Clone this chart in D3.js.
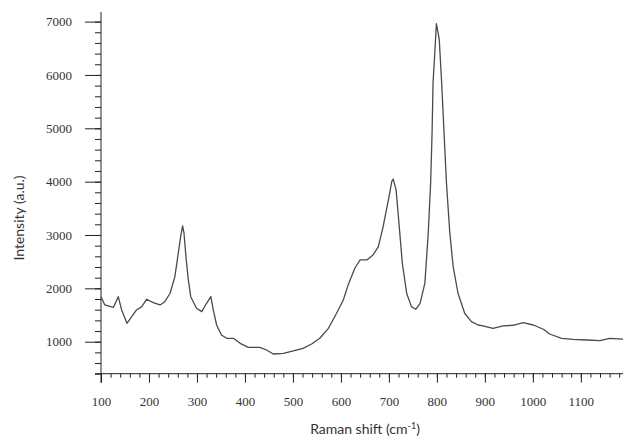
<!DOCTYPE html>
<html>
<head>
<meta charset="utf-8">
<script src="https://cdn.jsdelivr.net/npm/d3@7"></script>
<style>
  body { margin: 0; background: #fff; }
  .tick text { font-family: "Liberation Serif", serif; font-size: 13px; fill: #333; }
  .axis path, .axis line { stroke: #222; }
</style>
</head>
<body>
<div id="chart"></div>
<script>
// raman spectrum, values
const shift = [100, 108, 126, 136, 143, 150, 154, 164, 174, 185, 195, 209, 223, 233, 244, 254, 261, 266, 270, 273,
  277, 282, 287, 299, 310, 320, 329, 334, 341, 351, 362, 376, 390, 407, 431, 445, 459, 480, 501, 521,
  539, 556, 574, 591, 605, 615, 629, 640, 654, 667, 678, 688, 699, 706, 709, 715, 721, 728, 737, 747,
  756, 765, 775, 782, 787, 790, 792, 796, 799, 805, 810, 815, 820, 827, 834, 844, 858, 872, 886, 896,
  917, 938, 959, 980, 1001, 1022, 1035, 1060, 1084, 1112, 1140, 1160, 1190];
const intensity = [1844, 1689, 1645, 1844, 1595, 1439, 1345, 1469, 1595, 1657, 1795, 1732, 1689, 1750, 1908, 2220, 2657, 2970, 3170, 3034,
  2595, 2158, 1844, 1627, 1563, 1720, 1844, 1595, 1313, 1126, 1064, 1064, 970, 895, 895, 844, 769, 782, 826, 876,
  957, 1064, 1251, 1533, 1782, 2061, 2377, 2533, 2533, 2627, 2782, 3158, 3658, 4002, 4047, 3846, 3221, 2471, 1908, 1657,
  1608, 1720, 2096, 3034, 3972, 4910, 5848, 6473, 6961, 6661, 5848, 4910, 3972, 3034, 2407, 1908, 1533, 1375, 1313, 1295,
  1251, 1295, 1308, 1356, 1313, 1233, 1144, 1064, 1045, 1032, 1019, 1064, 1045];
const xTicks = [100, 200, 300, 400, 500, 600, 700, 800, 900, 1000, 1100];
const yTicks = [1000, 2000, 3000, 4000, 5000, 6000, 7000];

const width = 623, height = 441;
const plotLeft = 101, plotRight = 624, plotTop = 12, plotBottom = 373.7;

const svg = d3.select('#chart').append('svg')
  .attr('width', width)
  .attr('height', height);

const x = d3.scaleLinear().domain([100, 1190]).range([plotLeft, plotRight]);
const y = d3.scaleLinear().domain([400, 7180]).range([plotBottom, plotTop]);

// minor ticks first
svg.append('g')
  .attr('class', 'axis')
  .attr('transform', `translate(0,${plotBottom})`)
  .call(d3.axisBottom(x).tickValues(d3.range(100, 1191, 20)).tickSize(4).tickFormat(''))
  .call(g => g.select('.domain').remove());

svg.append('g')
  .attr('class', 'axis')
  .attr('transform', `translate(${plotLeft},0)`)
  .call(d3.axisLeft(y).tickValues(d3.range(400, 7180, 200)).tickSize(6).tickFormat(''))
  .call(g => g.select('.domain').remove());

// major ticks
const xAxis = svg.append('g')
  .attr('class', 'axis')
  .attr('transform', `translate(0,${plotBottom})`)
  .call(d3.axisBottom(x).tickValues(xTicks).tickFormat(d3.format('d')).tickSize(9).tickSizeOuter(0).tickPadding(14));
xAxis.select('.domain').attr('d', `M${plotLeft - 6},0H${plotRight}`);

const yAxis = svg.append('g')
  .attr('class', 'axis')
  .attr('transform', `translate(${plotLeft},0)`)
  .call(d3.axisLeft(y).tickValues(yTicks).tickFormat(d3.format('d')).tickSize(16).tickSizeOuter(0).tickPadding(13));
yAxis.select('.domain').attr('d', `M0,${plotTop}V${plotBottom + 9}`);

// spectrum
const line = d3.line()
  .x((d, i) => x(shift[i]))
  .y(d => y(d));

svg.append('path')
  .datum(intensity)
  .attr('fill', 'none')
  .attr('stroke', '#4a4a4a')
  .attr('stroke-width', 1.3)
  .attr('stroke-linejoin', 'round')
  .attr('d', line);

// axis titles
svg.append('text')
  .attr('x', 365)
  .attr('y', 434)
  .attr('text-anchor', 'middle')
  .style('font-family', 'Lato, sans-serif')
  .style('font-size', '14px')
  .style('fill', '#333')
  .html('Raman shift (cm<tspan dy="-5" font-size="9">-1</tspan><tspan dy="5">)</tspan>');

svg.append('text')
  .attr('transform', 'translate(24,218) rotate(-90)')
  .attr('text-anchor', 'middle')
  .style('font-family', 'Lato, sans-serif')
  .style('font-size', '14px')
  .style('fill', '#333')
  .text('Intensity (a.u.)');
</script>
</body>
</html>
